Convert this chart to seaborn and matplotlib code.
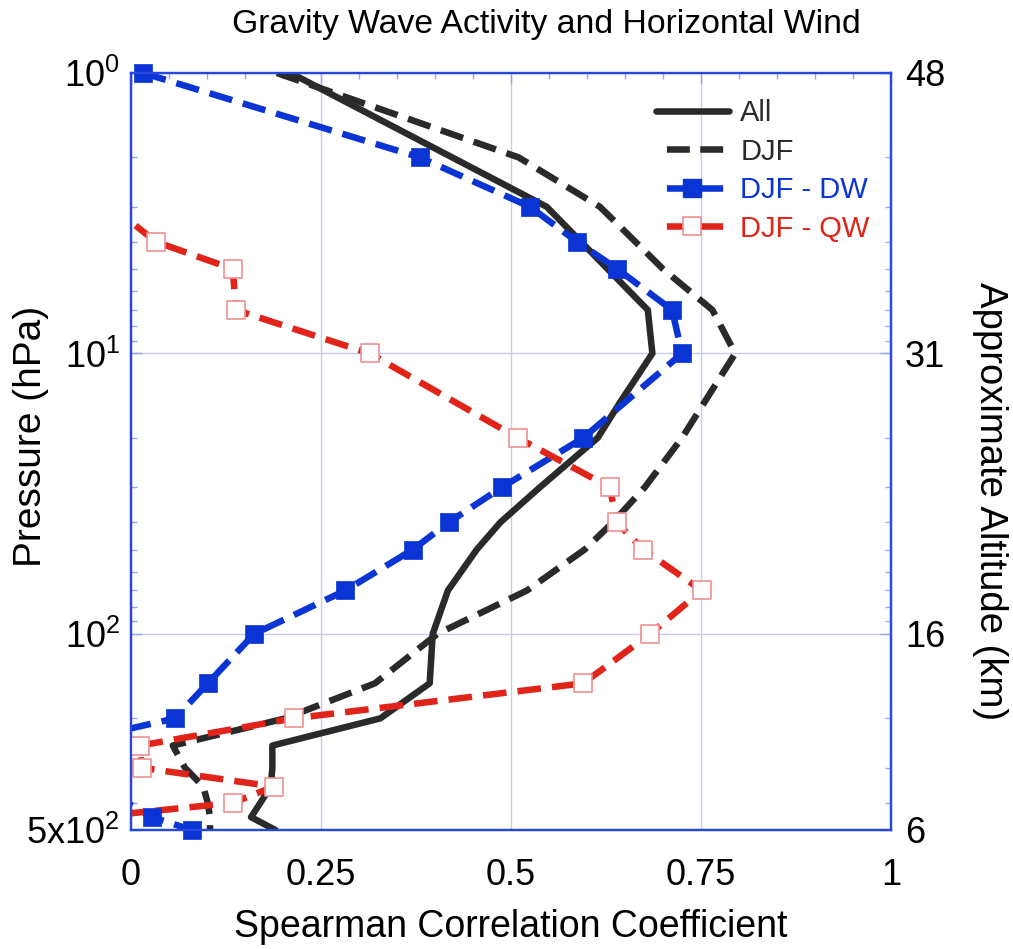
import numpy as np
import pandas as pd
import matplotlib
matplotlib.use("Agg")
import matplotlib.pyplot as plt
import seaborn as sns
from matplotlib.lines import Line2D
from matplotlib.ticker import FixedLocator, MultipleLocator, NullFormatter

# ---------------- data ----------------
p_all = [1, 3, 7, 10, 15, 20, 30, 40, 50, 70, 100, 150, 200, 250, 300, 350, 450, 500]
r_all = [0.21, 0.547, 0.68, 0.686, 0.643, 0.614, 0.538, 0.486, 0.455, 0.417, 0.397,
         0.393, 0.328, 0.186, 0.186, 0.184, 0.158, 0.19]

p_djf = [1, 2, 3, 5, 7, 10, 15, 20, 30, 40, 50, 70, 100, 150, 200, 250, 300, 350, 400, 450, 500]
r_djf = [0.192, 0.51, 0.617, 0.70, 0.765, 0.795, 0.754, 0.725, 0.676, 0.634, 0.597,
         0.521, 0.403, 0.321, 0.203, 0.055, 0.071, 0.095, 0.101, 0.104, 0.104]

p_dw = [1, 2, 3, 4, 5, 7, 10, 20, 30, 40, 50, 70, 100, 150, 200, 250, 300, 350, 400, 450, 500]
r_dw = [0.016, 0.38, 0.525, 0.587, 0.64, 0.712, 0.725, 0.595, 0.488, 0.418, 0.371,
        0.282, 0.162, 0.101, 0.058, -0.10, -0.15, -0.12, -0.005, 0.028, 0.08]

p_qw = [3.5, 4, 5, 7, 10, 20, 30, 40, 50, 70, 100, 150, 200, 250, 300, 350, 400, 450, 500]
r_qw = [0.006, 0.033, 0.134, 0.138, 0.314, 0.509, 0.63, 0.639, 0.674, 0.751, 0.683,
        0.595, 0.214, 0.012, 0.014, 0.188, 0.134, -0.05, -0.10]

x_ticks = [0, 0.25, 0.5, 0.75, 1]
x_ticklabels = ["0", "0.25", "0.5", "0.75", "1"]
p_ticks = [1, 10, 100, 500]
p_ticklabels = [r"10$^{0}$", r"10$^{1}$", r"10$^{2}$", r"5x10$^{2}$"]
alt_ticklabels = ["48", "31", "16", "6"]

series_names = ["All", "DJF", "DJF - DW", "DJF - QW"]

# ---------------- style ----------------
sns.set_style("white")
plt.rcParams["font.family"] = ["Liberation Sans", "DejaVu Sans"]
plt.rcParams["mathtext.fontset"] = "custom"
plt.rcParams["mathtext.rm"] = "Liberation Sans"
plt.rcParams["mathtext.it"] = "Liberation Sans:italic"
plt.rcParams["mathtext.bf"] = "Liberation Sans:bold"
plt.rcParams["lines.scale_dashes"] = False
plt.rcParams["text.color"] = "black"
plt.rcParams["axes.labelcolor"] = "black"
plt.rcParams["xtick.labelcolor"] = "black"
plt.rcParams["ytick.labelcolor"] = "black"

BLACK = "#2a2a2a"
BLUE = "#0b34d4"
RED = "#e0241a"
RED_EDGE = "#f09090"
SPINE = "#2448e0"
GRID = "#c9c9f2"
TICK = "#97a6e6"

fig = plt.figure(figsize=(10.13, 9.49), dpi=100)
ax = fig.add_axes([0.1293, 0.1254, 0.7503, 0.7977])

LW = 4.7
DASH = (0, (17, 8))

df_all = pd.DataFrame({"p": p_all, "r": r_all})
df_djf = pd.DataFrame({"p": p_djf, "r": r_djf})
df_dw = pd.DataFrame({"p": p_dw, "r": r_dw})
df_qw = pd.DataFrame({"p": p_qw, "r": r_qw})

sns.lineplot(data=df_all, x="r", y="p", sort=False, estimator=None, orient="y",
             color=BLACK, lw=LW, ax=ax, zorder=3)
sns.lineplot(data=df_djf, x="r", y="p", sort=False, estimator=None, orient="y",
             color=BLACK, lw=LW, linestyle=DASH, ax=ax, zorder=3)
sns.lineplot(data=df_dw, x="r", y="p", sort=False, estimator=None, orient="y",
             color=BLUE, lw=LW, linestyle=DASH, ax=ax, zorder=4)
sns.lineplot(data=df_qw, x="r", y="p", sort=False, estimator=None, orient="y",
             color=RED, lw=LW, linestyle=DASH, ax=ax, zorder=5)

MS = 12.5
vis_dw = df_dw[(df_dw.r >= 0.01) & (df_dw.r <= 1)]
vis_qw = df_qw[(df_qw.r >= 0.01) & (df_qw.r <= 1)]
sns.scatterplot(data=vis_dw, x="r", y="p", marker="s", s=MS ** 2, color=BLUE,
                edgecolor=BLUE, linewidth=0.5, ax=ax, zorder=6, clip_on=False)
sns.scatterplot(data=vis_qw, x="r", y="p", marker="s", s=MS ** 2, color="white",
                edgecolor=RED_EDGE, linewidth=1.2, ax=ax, zorder=7, clip_on=False)

# ---------------- axes ----------------
ax.set_yscale("log")
ax.set_xlim(0, 1)
ax.set_ylim(500, 1)
ax.xaxis.set_major_locator(FixedLocator(x_ticks))
ax.set_xticklabels(x_ticklabels)
ax.xaxis.set_minor_locator(MultipleLocator(0.05))
ax.yaxis.set_major_locator(FixedLocator(p_ticks))
ax.set_yticklabels(p_ticklabels)
minor_p = [m * 10 ** e for e in range(0, 3) for m in range(2, 10) if m * 10 ** e < 500]
ax.yaxis.set_minor_locator(FixedLocator(minor_p))
ax.yaxis.set_minor_formatter(NullFormatter())

ax.grid(True, which="major", color=GRID, lw=1.0, zorder=0)
ax.set_axisbelow(True)
for s in ax.spines.values():
    s.set_color(SPINE)
    s.set_linewidth(1.6)

ax.tick_params(axis="both", which="both", direction="in", color=TICK, width=1.0,
               top=True, labelsize=26, labelcolor="black")
ax.tick_params(axis="both", which="major", length=8)
ax.tick_params(axis="both", which="minor", length=4.5)
ax.tick_params(axis="x", which="major", pad=20)
ax.tick_params(axis="y", which="major", pad=8)

ax.set_xlabel("Spearman Correlation Coefficient", fontsize=27, labelpad=12, color="black")
ax.set_ylabel("Pressure (hPa)", fontsize=28, va="center", color="black")
ax.yaxis.set_label_coords(-0.1316, 0.52)
ax.set_title("Gravity Wave Activity and Horizontal Wind", fontsize=24.3, x=0.547, pad=29,
             color="black")

ax2 = ax.twinx()
ax2.set_yscale("log")
ax2.set_ylim(500, 1)
ax2.yaxis.set_major_locator(FixedLocator(p_ticks))
ax2.set_yticklabels(alt_ticklabels)
ax2.yaxis.set_minor_locator(FixedLocator(minor_p))
ax2.yaxis.set_minor_formatter(NullFormatter())
ax2.tick_params(axis="y", which="both", direction="in", color=TICK, width=1.0,
                labelsize=26, pad=10, labelcolor="black")
ax2.tick_params(axis="y", which="major", length=8)
ax2.tick_params(axis="y", which="minor", length=4.5)
for s in ax2.spines.values():
    s.set_color(SPINE)
    s.set_linewidth(1.6)
ax2.set_ylabel("Approximate Altitude (km)", fontsize=27.5, rotation=270, va="center",
               color="black")
ax2.yaxis.set_label_coords(1.130, 0.435)

# ---------------- legend ----------------
LEG_DASH = (16.5, (16.5, 7.5))
handles = [
    Line2D([], [], color=BLACK, lw=LW),
    Line2D([], [], color=BLACK, lw=LW, linestyle=LEG_DASH),
    Line2D([], [], color=BLUE, lw=LW, linestyle=LEG_DASH, marker="s", ms=MS,
           mfc=BLUE, mec=BLUE),
    Line2D([], [], color=RED, lw=LW, linestyle=LEG_DASH, marker="s", ms=MS,
           mfc="white", mec=RED_EDGE, mew=1.2),
]
leg = ax.legend(handles, series_names, loc="upper left", bbox_to_anchor=(0.675, 0.981),
                frameon=False, fontsize=21, handlelength=2.5, handletextpad=0.4,
                labelspacing=0.36, borderaxespad=0, numpoints=1)
for txt, c in zip(leg.get_texts(), [BLACK, BLACK, BLUE, RED]):
    txt.set_color(c)

fig.savefig("out.png", dpi=100)
